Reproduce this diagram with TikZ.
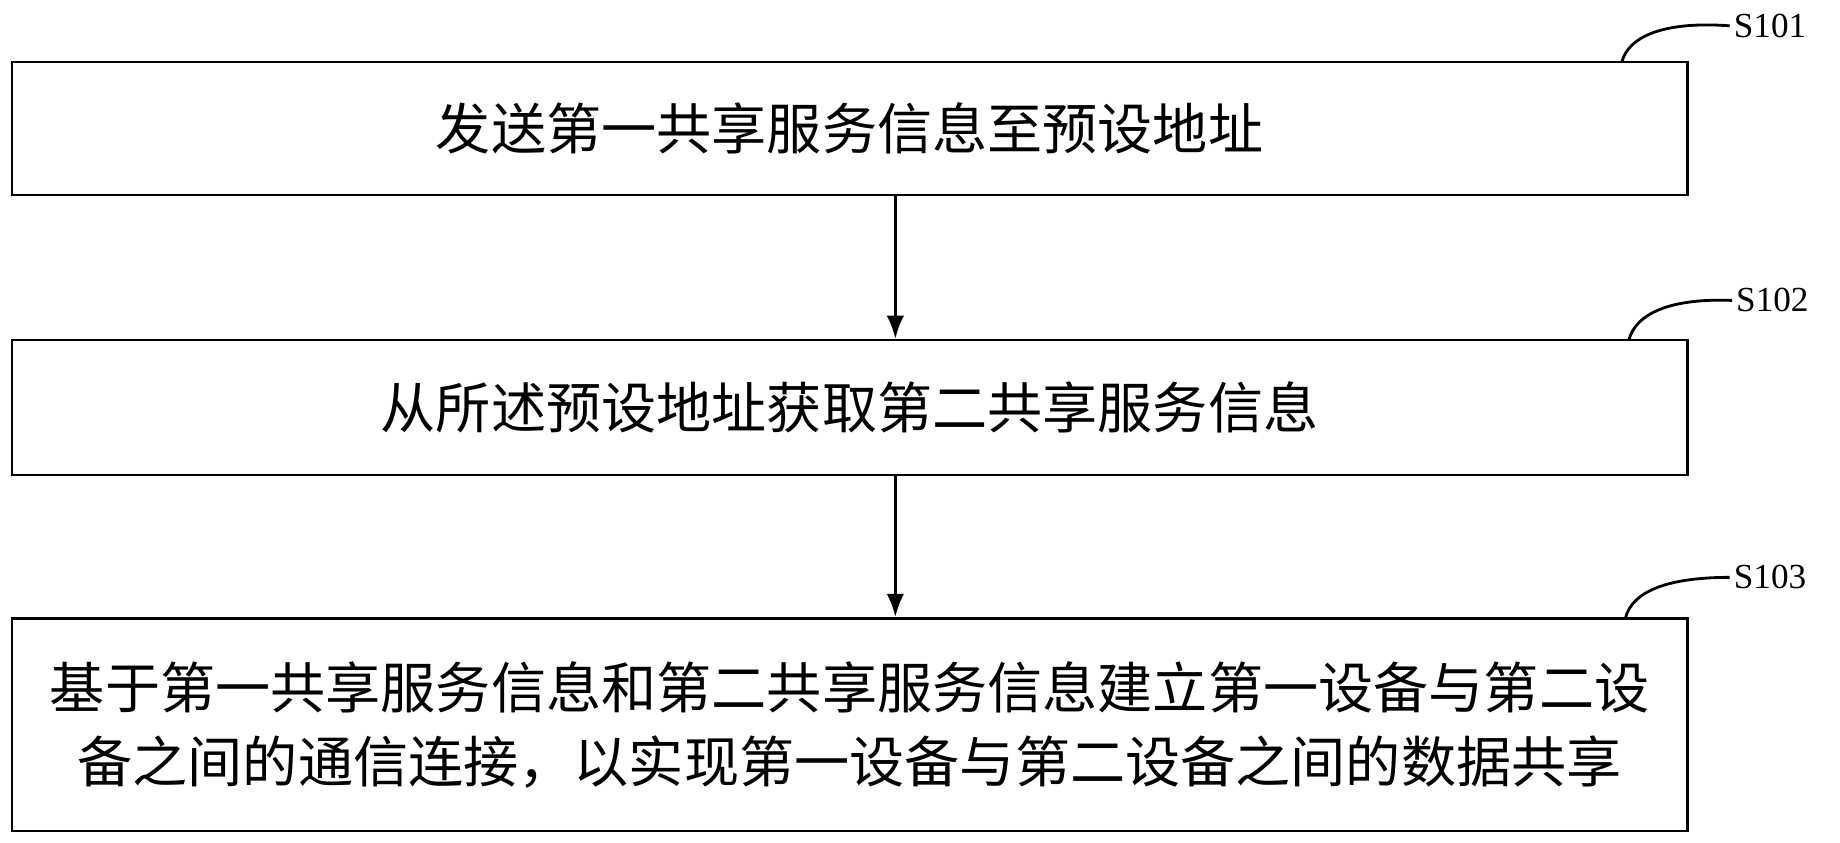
\documentclass[tikz,border=0pt]{standalone}
\usepackage{fontspec}
\setmainfont{Liberation Serif}
\newfontfamily\cjk{Noto Sans CJK SC}
\begin{document}
\begin{tikzpicture}[x=1pt,y=-1pt,
  box/.style={draw,line width=2pt,inner sep=0pt,font=\cjk\fontsize{47}{63}\selectfont,align=center},
  lbl/.style={font=\fontsize{30}{34}\selectfont,anchor=west},
  arr/.style={line width=3pt,-{Latex[length=20pt,width=15pt]}},
  lead/.style={line width=2.4pt}]
\usetikzlibrary{arrows.meta}
\useasboundingbox (0,0) rectangle (1568,718);
\node[box,minimum width=1428pt,minimum height=113pt] (b1) at (724,109.5) {发送第一共享服务信息至预设地址};
\node[box,minimum width=1428pt,minimum height=115pt] (b2) at (724,347.5) {从所述预设地址获取第二共享服务信息};
\node[box,minimum width=1428pt,minimum height=181pt] (b3) at (724,617.5) {基于第一共享服务信息和第二共享服务信息建立第一设备与第二设\\备之间的通信连接，以实现第一设备与第二设备之间的数据共享};
\draw[arr] (b1.south -| 763,0) -- (b2.north -| 763,0);
\draw[arr] (b2.south -| 763,0) -- (b3.north -| 763,0);
\node[lbl] (l1) at (1474,22) {S101};
\node[lbl] (l2) at (1476,256) {S102};
\node[lbl] (l3) at (1474,492) {S103};
\coordinate (c1) at (1382,53);
\coordinate (c2) at (1388,290);
\coordinate (c3) at (1385,527);
\draw[lead] (c1) .. controls (1388,30) and (1420,18) .. (l1.west);
\draw[lead] (c2) .. controls (1394,266) and (1426,254) .. (l2.west);
\draw[lead] (c3) .. controls (1391,503) and (1423,492) .. (l3.west);
\end{tikzpicture}
\end{document}
